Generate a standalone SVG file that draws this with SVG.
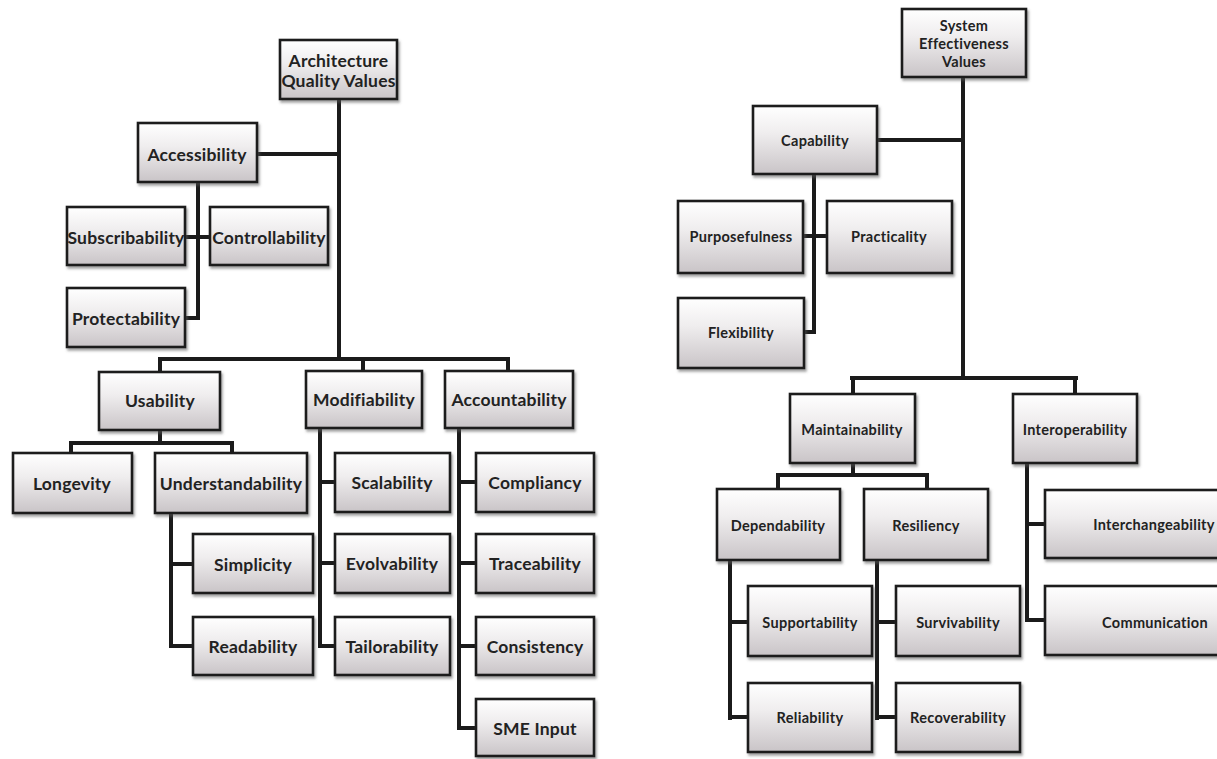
<svg xmlns="http://www.w3.org/2000/svg" width="1217" height="759" viewBox="0 0 1217 759">
  <defs>
    <linearGradient id="boxFill" x1="0" y1="0" x2="0" y2="1">
      <stop offset="0" stop-color="#ffffff"/>
      <stop offset="0.4" stop-color="#efedee"/>
      <stop offset="1" stop-color="#c9c4c7"/>
    </linearGradient>
    <filter id="shade" x="-10%" y="-10%" width="125%" height="130%">
      <feDropShadow dx="1.5" dy="2.5" stdDeviation="1.2" flood-color="#555" flood-opacity="0.55"/>
    </filter>
  </defs>
  <style>
    .box { fill: url(#boxFill); stroke: #1b1b1b; stroke-width: 2.6; filter: url(#shade); }
    .lbl { font-family: "Lato", "Liberation Sans", sans-serif; font-weight: bold; fill: #222; text-anchor: middle; dominant-baseline: central; }
    .a { font-size: 17.5px; letter-spacing: 0.2px; }
    .s { font-size: 14.5px; letter-spacing: 0.3px; }
    .wire { fill: none; stroke: #1b1b1b; stroke-width: 4; stroke-linecap: square; stroke-linejoin: miter; }
  </style>
  <rect width="1217" height="759" fill="#ffffff"/>

  <!-- connectors -->
  <g id="connectors" class="wire">
    <!-- architecture quality tree -->
    <path d="M339 99 V359 M160 359 H508 M160 359 V372 M363 359 V371 M508 359 V371"/>
    <path d="M257 154 H339"/>
    <path d="M198 182 V318 M185 237 H210 M185 318 H198"/>
    <path d="M160 430 V443 M71 443 H232 M71 443 V453 M232 443 V453"/>
    <path d="M171 513 V646 M171 564 H193 M171 646 H193"/>
    <path d="M320 428 V646 M320 482 H335 M320 563 H335 M320 646 H335"/>
    <path d="M459 428 V728 M459 482 H476 M459 563 H476 M459 646 H476 M459 728 H476"/>
    <!-- system effectiveness tree -->
    <path d="M963 77 V378 M852 378 H1076 M853 378 V394 M1075 378 V394"/>
    <path d="M877 140 H963"/>
    <path d="M814 174 V332 M803 236 H827 M804 332 H814"/>
    <path d="M853 463 V475 M778 475 H927 M778 475 V489 M927 475 V489"/>
    <path d="M730 560 V718 M730 622 H748 M730 717 H748"/>
    <path d="M877 560 V718 M877 622 H896 M877 717 H896"/>
    <path d="M1027 463 V620 M1027 524 H1045 M1027 620 H1045"/>
  </g>

  <!-- Architecture Quality Values -->
  <g id="aqv">
    <rect class="box" x="280" y="40" width="117" height="59"/>
    <text class="lbl a" x="338.5" y="60">Architecture</text>
    <text class="lbl a" x="338.5" y="80">Quality Values</text>
  </g>
  <g id="accessibility">
    <rect class="box" x="138" y="123" width="119" height="59"/>
    <text class="lbl a" x="197" y="154">Accessibility</text>
  </g>
  <g id="subscribability">
    <rect class="box" x="67" y="207" width="118" height="58"/>
    <text class="lbl a" x="126" y="237">Subscribability</text>
  </g>
  <g id="controllability">
    <rect class="box" x="210" y="207" width="118" height="58"/>
    <text class="lbl a" x="269" y="237">Controllability</text>
  </g>
  <g id="protectability">
    <rect class="box" x="67" y="288" width="118" height="59"/>
    <text class="lbl a" x="126" y="318">Protectability</text>
  </g>
  <g id="usability">
    <rect class="box" x="99" y="372" width="121" height="58"/>
    <text class="lbl a" x="160" y="400">Usability</text>
  </g>
  <g id="modifiability">
    <rect class="box" x="306" y="371" width="116" height="57"/>
    <text class="lbl a" x="364" y="399">Modifiability</text>
  </g>
  <g id="accountability">
    <rect class="box" x="445" y="371" width="128" height="57"/>
    <text class="lbl a" x="509" y="399">Accountability</text>
  </g>
  <g id="longevity">
    <rect class="box" x="13" y="453" width="119" height="60"/>
    <text class="lbl a" x="72" y="483">Longevity</text>
  </g>
  <g id="understandability">
    <rect class="box" x="155" y="453" width="152" height="60"/>
    <text class="lbl a" x="231" y="483">Understandability</text>
  </g>
  <g id="simplicity">
    <rect class="box" x="193" y="534" width="120" height="59"/>
    <text class="lbl a" x="253" y="564">Simplicity</text>
  </g>
  <g id="readability">
    <rect class="box" x="193" y="617" width="120" height="58"/>
    <text class="lbl a" x="253" y="646">Readability</text>
  </g>
  <g id="scalability">
    <rect class="box" x="335" y="453" width="115" height="59"/>
    <text class="lbl a" x="392" y="482">Scalability</text>
  </g>
  <g id="evolvability">
    <rect class="box" x="335" y="534" width="115" height="59"/>
    <text class="lbl a" x="392" y="563">Evolvability</text>
  </g>
  <g id="tailorability">
    <rect class="box" x="335" y="617" width="115" height="58"/>
    <text class="lbl a" x="392" y="646">Tailorability</text>
  </g>
  <g id="compliancy">
    <rect class="box" x="476" y="453" width="118" height="59"/>
    <text class="lbl a" x="535" y="482">Compliancy</text>
  </g>
  <g id="traceability">
    <rect class="box" x="476" y="534" width="118" height="59"/>
    <text class="lbl a" x="535" y="563">Traceability</text>
  </g>
  <g id="consistency">
    <rect class="box" x="476" y="617" width="118" height="58"/>
    <text class="lbl a" x="535" y="646">Consistency</text>
  </g>
  <g id="sme-input">
    <rect class="box" x="476" y="699" width="118" height="57"/>
    <text class="lbl a" x="535" y="728">SME Input</text>
  </g>

  <!-- System Effectiveness Values -->
  <g id="sev">
    <rect class="box" x="902" y="9" width="124" height="68"/>
    <text class="lbl s" x="964" y="25">System</text>
    <text class="lbl s" x="964" y="43">Effectiveness</text>
    <text class="lbl s" x="964" y="61">Values</text>
  </g>
  <g id="capability">
    <rect class="box" x="753" y="106" width="124" height="68"/>
    <text class="lbl s" x="815" y="140">Capability</text>
  </g>
  <g id="purposefulness">
    <rect class="box" x="678" y="201" width="125" height="72"/>
    <text class="lbl s" x="741" y="236">Purposefulness</text>
  </g>
  <g id="practicality">
    <rect class="box" x="827" y="201" width="125" height="72"/>
    <text class="lbl s" x="889" y="236">Practicality</text>
  </g>
  <g id="flexibility">
    <rect class="box" x="678" y="298" width="126" height="70"/>
    <text class="lbl s" x="741" y="332">Flexibility</text>
  </g>
  <g id="maintainability">
    <rect class="box" x="790" y="394" width="125" height="69"/>
    <text class="lbl s" x="852" y="429">Maintainability</text>
  </g>
  <g id="interoperability">
    <rect class="box" x="1013" y="394" width="124" height="69"/>
    <text class="lbl s" x="1075" y="429">Interoperability</text>
  </g>
  <g id="dependability">
    <rect class="box" x="717" y="489" width="123" height="71"/>
    <text class="lbl s" x="778" y="525">Dependability</text>
  </g>
  <g id="resiliency">
    <rect class="box" x="864" y="489" width="124" height="71"/>
    <text class="lbl s" x="926" y="525">Resiliency</text>
  </g>
  <g id="supportability">
    <rect class="box" x="748" y="586" width="124" height="70"/>
    <text class="lbl s" x="810" y="622">Supportability</text>
  </g>
  <g id="reliability">
    <rect class="box" x="748" y="683" width="124" height="69"/>
    <text class="lbl s" x="810" y="717">Reliability</text>
  </g>
  <g id="survivability">
    <rect class="box" x="896" y="586" width="124" height="70"/>
    <text class="lbl s" x="958" y="622">Survivability</text>
  </g>
  <g id="recoverability">
    <rect class="box" x="896" y="683" width="124" height="69"/>
    <text class="lbl s" x="958" y="717">Recoverability</text>
  </g>
  <g id="interchangeability">
    <rect class="box" x="1045" y="490" width="180" height="68"/>
    <text class="lbl s" x="1154" y="524">Interchangeability</text>
  </g>
  <g id="communication">
    <rect class="box" x="1045" y="586" width="180" height="69"/>
    <text class="lbl s" x="1155" y="622">Communication</text>
  </g>
</svg>
